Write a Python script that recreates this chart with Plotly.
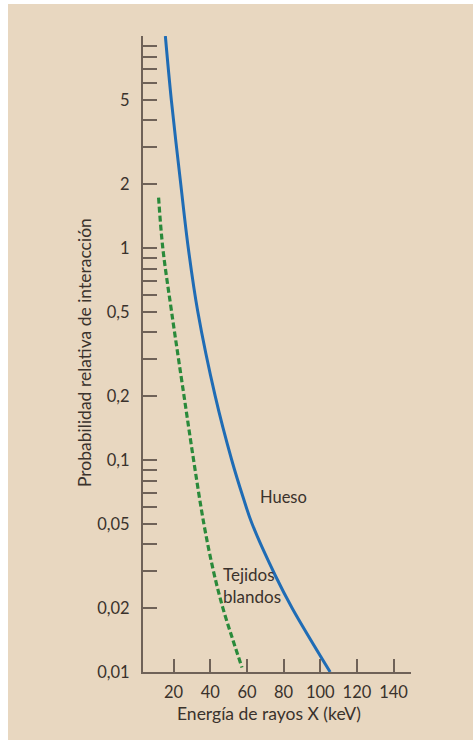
import plotly.graph_objects as go
import numpy as np

# ---- data ----
hueso_kev = [15.5, 18.75, 23.9, 28.0, 33.2, 42.7, 51.7, 57.9, 62.8, 75.4, 84.7, 105.4]
hueso_val = [10, 5, 2, 1, 0.5, 0.2, 0.1, 0.0667, 0.05, 0.0286, 0.02, 0.01]

tejidos_kev = [11.8, 14.1, 18.9, 25.7, 30.9, 36.5, 41.7, 46.9, 52.3, 57.3]
tejidos_val = [1.73, 1, 0.5, 0.2, 0.1, 0.05, 0.03, 0.02, 0.0142, 0.0105]

x_ticks = [20, 40, 60, 80, 100, 120, 140]
y_label_vals = [5, 2, 1, 0.5, 0.2, 0.1, 0.05, 0.02, 0.01]
y_label_text = ["5", "2", "1", "0,5", "0,2", "0,1", "0,05", "0,02", "0,01"]

# all log ticks (1..9 per decade) from 0.01 to 10
y_all = []
for dec in [0.01, 0.1, 1]:
    for m in range(1, 10):
        y_all.append(round(m * dec, 4))
y_all.append(10)
y_all_text = []
for v in y_all:
    txt = ""
    for lv, lt in zip(y_label_vals, y_label_text):
        if abs(lv - v) < 1e-9:
            txt = lt
    y_all_text.append(txt)

BG = "#E8D7C0"
AX = "#6F6258"
TXT = "#3A322C"
FONT = "Lato"

# page: figure placed at (8, 4) inside the window
OX, OY = 8, 4
W, H = 473 - OX, 740 - OY
ML, MR, MT, MB = 143 - OX, 62, 36 - OY, 68
PW, PH = W - ML - MR, H - MT - MB


def px_to_paper_x(px):
    return (px - OX - ML) / PW


def px_to_paper_y(py):
    return (H - MB - (py - OY)) / PH


fig = go.Figure()

fig.add_trace(go.Scatter(
    x=hueso_kev, y=hueso_val, mode="lines",
    line=dict(color="#1F6CB5", width=3, shape="spline", smoothing=1.0),
    showlegend=False, hoverinfo="skip"))

fig.add_trace(go.Scatter(
    x=tejidos_kev, y=tejidos_val, mode="lines",
    line=dict(color="#2A8A3A", width=3.2, dash="6px,3px", shape="spline", smoothing=1.0),
    showlegend=False, hoverinfo="skip"))

fig.add_annotation(x=66.2, y=-1.175, xref="x", yref="y",
                   text="Hueso", showarrow=False, xanchor="left", yanchor="middle",
                   font=dict(family=FONT, size=16.5, color=TXT))
fig.add_annotation(x=46.0, y=-1.594, xref="x", yref="y",
                   text="Tejidos<br>blandos", showarrow=False, xanchor="left",
                   yanchor="middle", align="left",
                   font=dict(family=FONT, size=17, color=TXT))

fig.add_annotation(x=px_to_paper_x(85), y=px_to_paper_y(353), xref="paper", yref="paper",
                   text="Probabilidad relativa de interacción", textangle=-90,
                   xanchor="center", yanchor="middle",
                   showarrow=False, font=dict(family=FONT, size=17.5, color=TXT))

fig.add_annotation(x=px_to_paper_x(269), y=px_to_paper_y(713), xref="paper", yref="paper",
                   text="Energía de rayos X (keV)", showarrow=False,
                   xanchor="center", yanchor="middle",
                   font=dict(family=FONT, size=17.5, color=TXT))

fig.update_layout(
    width=W, height=H,
    margin=dict(l=ML, r=MR, t=MT, b=MB),
    paper_bgcolor=BG, plot_bgcolor=BG,
    font=dict(family=FONT, color=TXT),
    xaxis=dict(
        range=[3.3, 149.5], tickvals=x_ticks, ticks="inside", ticklen=13,
        tickwidth=1.5, tickcolor=AX, showline=True, linecolor=AX, linewidth=2,
        showgrid=False, zeroline=False, ticklabelstandoff=4,
        tickfont=dict(family=FONT, size=16.5, color=TXT),
    ),
    yaxis=dict(
        type="log", range=[-2, 1], tickmode="array", tickvals=y_all,
        ticktext=y_all_text, ticks="inside", ticklen=14, tickwidth=1.5,
        tickcolor=AX, showline=True, linecolor=AX, linewidth=2,
        showgrid=False, zeroline=False, ticklabelstandoff=8,
        tickfont=dict(family=FONT, size=16.5, color=TXT),
    ),
)

fig.write_html("out.html",
               post_script="document.body.style.margin='4px 0 0 8px';"
                           "document.body.style.padding='0';"
                           "document.documentElement.style.overflow='hidden';")
